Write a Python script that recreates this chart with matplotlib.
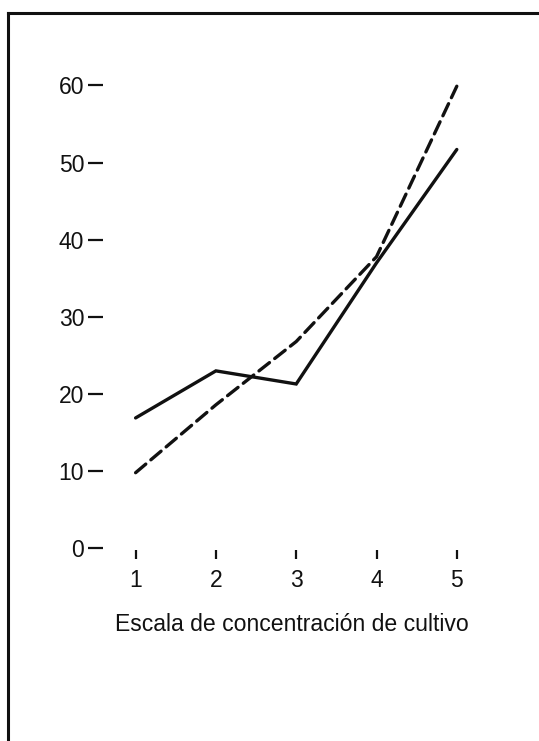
import matplotlib
matplotlib.use("Agg")
import matplotlib.pyplot as plt
from matplotlib.lines import Line2D

plt.rcParams["font.family"] = ["Liberation Sans", "DejaVu Sans"]

# data
escala = [1, 2, 3, 4, 5]
serie_solida = [16.9, 23.0, 21.3, 37.0, 51.7]
serie_discontinua = [9.8, 18.6, 26.8, 37.8, 59.9]
y_ticks = [0, 10, 20, 30, 40, 50, 60]
x_label = "Escala de concentración de cultivo"

ink = "#111111"
W, H = 539, 741

fig = plt.figure(figsize=(W / 100, H / 100), dpi=100)
ax = fig.add_axes([103 / W, (H - 550) / H, 417 / W, 490 / H])

ax.plot(escala, serie_solida, color=ink, linewidth=2.4,
        solid_joinstyle="miter", solid_capstyle="round")
ax.plot(escala, serie_discontinua, color=ink, linewidth=2.4,
        linestyle=(0, (4, 2)), dash_capstyle="round")

ax.set_xlim(0.594, 5.787)
ax.set_ylim(-0.22, 63.3)

ax.set_yticks(y_ticks)
ax.set_yticklabels([str(v) for v in y_ticks])
ax.set_xticks(escala)
ax.set_xticklabels([str(v) for v in escala])

ax.tick_params(axis="y", direction="out", length=11, width=1.6,
               pad=2.5, labelsize=16.5, colors=ink)
ax.tick_params(axis="x", direction="out", length=6.5, width=1.6,
               pad=7, labelsize=16.5, colors=ink)

for side in ["top", "right", "bottom", "left"]:
    ax.spines[side].set_visible(False)
ax.patch.set_visible(False)

fig.text(292 / W, 1 - 631 / H, x_label, ha="center", va="baseline",
         fontsize=16.6, color=ink)

# page frame: top and left rules of the scan
fig.add_artist(Line2D([8 / W, 1.0], [1 - 13 / H, 1 - 13 / H],
                      color=ink, linewidth=2.2, transform=fig.transFigure))
fig.add_artist(Line2D([8 / W, 8 / W], [0.0, 1 - 13 / H],
                      color=ink, linewidth=2.2, transform=fig.transFigure))

fig.savefig("out.png", dpi=100)
